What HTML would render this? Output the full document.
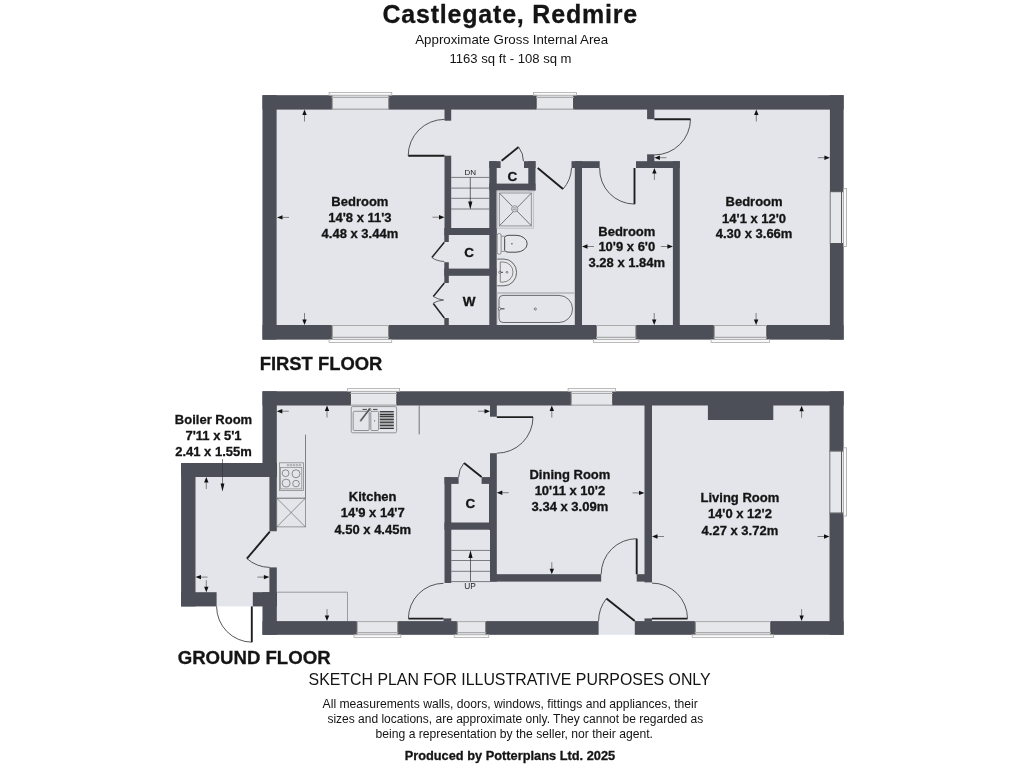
<!DOCTYPE html>
<html><head><meta charset="utf-8"><title>Castlegate, Redmire</title>
<style>html,body{margin:0;padding:0;background:#fff;}svg{display:block;font-family:"Liberation Sans",sans-serif;will-change:transform;}</style>
</head><body>
<svg width="1024" height="768" viewBox="0 0 1024 768">
<rect x="0" y="0" width="1024" height="768" fill="#fff"/>
<rect x="262.5" y="95.2" width="581.1" height="244.4" fill="#e4e5eb" />
<rect x="262.5" y="95.2" width="581.1" height="14.4" fill="#4c4f58" />
<rect x="262.5" y="95.2" width="14.1" height="244.4" fill="#4c4f58" />
<rect x="829.9" y="95.2" width="13.7" height="244.4" fill="#4c4f58" />
<rect x="262.5" y="325" width="581.1" height="14.6" fill="#4c4f58" />
<rect x="444.5" y="108.5" width="6.7" height="12.2" fill="#4c4f58" />
<rect x="444.5" y="155.7" width="6.7" height="79.3" fill="#4c4f58" />
<rect x="444.3" y="228" width="52.2" height="7" fill="#4c4f58" />
<rect x="444.3" y="234" width="4.5" height="8" fill="#4c4f58" />
<rect x="444.3" y="262.2" width="4.5" height="20.8" fill="#4c4f58" />
<rect x="444.3" y="268.6" width="52.2" height="7.2" fill="#4c4f58" />
<rect x="444.3" y="318" width="4.5" height="8" fill="#4c4f58" />
<rect x="489.3" y="161.2" width="7.4" height="164.8" fill="#4c4f58" />
<rect x="489.3" y="161.2" width="11.3" height="6.8" fill="#4c4f58" />
<rect x="524" y="161.2" width="11.5" height="6.8" fill="#4c4f58" />
<rect x="528.3" y="161.2" width="7.2" height="29.3" fill="#4c4f58" />
<rect x="489.3" y="183.6" width="46.2" height="6.9" fill="#4c4f58" />
<rect x="574.8" y="161.2" width="7.2" height="164.8" fill="#4c4f58" />
<rect x="571.5" y="161.2" width="28.2" height="6.8" fill="#4c4f58" />
<rect x="636" y="161.2" width="43.8" height="6.8" fill="#4c4f58" />
<rect x="672.9" y="161.2" width="6.9" height="164.8" fill="#4c4f58" />
<rect x="647.1" y="108.5" width="7.3" height="10.7" fill="#4c4f58" />
<rect x="647.1" y="154.3" width="7.3" height="7.7" fill="#4c4f58" />
<rect x="331.7" y="95.2" width="57.5" height="14.3" fill="#e6e7eb" />
<line x1="332.0" y1="95.2" x2="332.0" y2="109.5" stroke="#333" stroke-width="0.8"/>
<line x1="388.9" y1="95.2" x2="388.9" y2="109.5" stroke="#333" stroke-width="0.8"/>
<rect x="329.09999999999997" y="92.4" width="62.7" height="2.8" fill="#fafafa" stroke="#aaa" stroke-width="0.8"/>
<line x1="331.7" y1="97.4" x2="389.2" y2="97.4" stroke="#aaa" stroke-width="1.2"/>
<line x1="331.7" y1="109.0" x2="389.2" y2="109.0" stroke="#aaa" stroke-width="1"/>
<rect x="536" y="95.2" width="37.8" height="14.3" fill="#e6e7eb" />
<line x1="536.3" y1="95.2" x2="536.3" y2="109.5" stroke="#333" stroke-width="0.8"/>
<line x1="573.5" y1="95.2" x2="573.5" y2="109.5" stroke="#333" stroke-width="0.8"/>
<rect x="533.4" y="92.4" width="43.0" height="2.8" fill="#fafafa" stroke="#aaa" stroke-width="0.8"/>
<line x1="536" y1="97.4" x2="573.8" y2="97.4" stroke="#aaa" stroke-width="1.2"/>
<line x1="536" y1="109.0" x2="573.8" y2="109.0" stroke="#aaa" stroke-width="1"/>
<rect x="829.9" y="191.4" width="13.7" height="52.4" fill="#e6e7eb" />
<line x1="829.9" y1="191.70000000000002" x2="843.6" y2="191.70000000000002" stroke="#333" stroke-width="0.8"/>
<line x1="829.9" y1="243.5" x2="843.6" y2="243.5" stroke="#333" stroke-width="0.8"/>
<rect x="843.6" y="188.4" width="2.9" height="58.1" fill="#fafafa" stroke="#a5a5a8" stroke-width="0.8"/>
<line x1="841.5" y1="191.4" x2="841.5" y2="243.8" stroke="#5a5a5e" stroke-width="1.0"/>
<line x1="830.3" y1="191.4" x2="830.3" y2="243.8" stroke="#77777b" stroke-width="0.9"/>
<rect x="331.7" y="325" width="57.4" height="14.6" fill="#e6e7eb" />
<line x1="332.0" y1="325" x2="332.0" y2="339.6" stroke="#333" stroke-width="0.8"/>
<line x1="388.8" y1="325" x2="388.8" y2="339.6" stroke="#333" stroke-width="0.8"/>
<rect x="329.09999999999997" y="339.6" width="62.6" height="2.8" fill="#fafafa" stroke="#aaa" stroke-width="0.8"/>
<line x1="331.7" y1="337.40000000000003" x2="389.1" y2="337.40000000000003" stroke="#aaa" stroke-width="1.2"/>
<line x1="331.7" y1="325.5" x2="389.1" y2="325.5" stroke="#aaa" stroke-width="1"/>
<rect x="596" y="325" width="40.3" height="14.6" fill="#e6e7eb" />
<line x1="596.3" y1="325" x2="596.3" y2="339.6" stroke="#333" stroke-width="0.8"/>
<line x1="636.0" y1="325" x2="636.0" y2="339.6" stroke="#333" stroke-width="0.8"/>
<rect x="593.4" y="339.6" width="45.5" height="2.8" fill="#fafafa" stroke="#aaa" stroke-width="0.8"/>
<line x1="596" y1="337.40000000000003" x2="636.3" y2="337.40000000000003" stroke="#aaa" stroke-width="1.2"/>
<line x1="596" y1="325.5" x2="636.3" y2="325.5" stroke="#aaa" stroke-width="1"/>
<rect x="713.7" y="325" width="53.3" height="14.6" fill="#e6e7eb" />
<line x1="714.0" y1="325" x2="714.0" y2="339.6" stroke="#333" stroke-width="0.8"/>
<line x1="766.7" y1="325" x2="766.7" y2="339.6" stroke="#333" stroke-width="0.8"/>
<rect x="711.1" y="339.6" width="58.5" height="2.8" fill="#fafafa" stroke="#aaa" stroke-width="0.8"/>
<line x1="713.7" y1="337.40000000000003" x2="767" y2="337.40000000000003" stroke="#aaa" stroke-width="1.2"/>
<line x1="713.7" y1="325.5" x2="767" y2="325.5" stroke="#aaa" stroke-width="1"/>
<line x1="408.2" y1="155.7" x2="444.5" y2="155.7" stroke="#1e1e1e" stroke-width="1.9"/>
<path d="M408.2 155.7 A36.3 36.3 0 0 1 444.5 119.4" stroke="#444" stroke-width="0.9" fill="none"/>
<line x1="501.6" y1="160.8" x2="518.6" y2="147.1" stroke="#1e1e1e" stroke-width="1.9"/>
<path d="M518.6 147.1 A22 22 0 0 1 523.4 161.2" stroke="#444" stroke-width="0.9" fill="none"/>
<line x1="537.7" y1="168" x2="563" y2="189.1" stroke="#1e1e1e" stroke-width="1.9"/>
<path d="M563 189.1 A33.9 33.9 0 0 0 571.5 168" stroke="#444" stroke-width="0.9" fill="none"/>
<line x1="654.4" y1="119.2" x2="690.5" y2="119.2" stroke="#1e1e1e" stroke-width="1.9"/>
<path d="M690.5 119.2 A36 36 0 0 1 654.4 154.9" stroke="#444" stroke-width="0.9" fill="none"/>
<line x1="634.5" y1="168" x2="634.5" y2="204.1" stroke="#1e1e1e" stroke-width="1.9"/>
<path d="M599.7 168 A35 35 0 0 0 634.5 204.1" stroke="#444" stroke-width="0.9" fill="none"/>
<path d="M444.3 242.2 L431.9 257.5" stroke="#222" stroke-width="1.5" fill="none"/>
<path d="M431.9 257.5 Q436 261 444.3 261.5" stroke="#444" stroke-width="0.8" fill="none"/>
<path d="M444.3 283 L433.3 296.5" stroke="#222" stroke-width="1.5" fill="none"/>
<path d="M433.3 296.5 Q438 299.5 443.6 300" stroke="#444" stroke-width="0.8" fill="none"/>
<path d="M443.6 300 Q438 300.5 433.3 303" stroke="#444" stroke-width="0.8" fill="none"/>
<path d="M433.3 303.5 L444.3 318" stroke="#222" stroke-width="1.5" fill="none"/>
<line x1="451.2" y1="177.4" x2="489.3" y2="177.4" stroke="#58585c" stroke-width="0.75"/>
<line x1="451.2" y1="188.1" x2="489.3" y2="188.1" stroke="#58585c" stroke-width="0.75"/>
<line x1="451.2" y1="198.3" x2="489.3" y2="198.3" stroke="#58585c" stroke-width="0.75"/>
<line x1="451.2" y1="209" x2="489.3" y2="209" stroke="#58585c" stroke-width="0.75"/>
<line x1="470.3" y1="177.4" x2="470.3" y2="203" stroke="#333" stroke-width="0.7"/>
<path d="M470.3 209.5 L468.2 201.5 L472.4 201.5 Z" stroke="none" stroke-width="0" fill="#111"/>
<text x="470.3" y="175.1" font-size="8" font-weight="normal" text-anchor="middle" fill="#222" >DN</text>
<text x="512.3" y="180.7" font-size="13.5" font-weight="bold" text-anchor="middle" fill="#141414"  stroke="#141414" stroke-width="0.3">C</text>
<text x="469" y="256.6" font-size="13.5" font-weight="bold" text-anchor="middle" fill="#141414"  stroke="#141414" stroke-width="0.3">C</text>
<text x="469" y="305.5" font-size="13.5" font-weight="bold" text-anchor="middle" fill="#141414"  stroke="#141414" stroke-width="0.3">W</text>
<rect x="497.3" y="191.2" width="36.2" height="37.0" fill="none" stroke="#c4c5c9" stroke-width="1.2"/>
<rect x="499.4" y="193" width="32.0" height="32.9" fill="none" stroke="#9c9da1" stroke-width="1.1"/>
<line x1="499.5" y1="193.2" x2="531.3" y2="225.7" stroke="#444" stroke-width="0.7"/>
<line x1="531.3" y1="193.2" x2="499.5" y2="225.7" stroke="#444" stroke-width="0.7"/>
<circle cx="514.7" cy="208.8" r="3.2" fill="#d8d9dd" stroke="#8a8a8e" stroke-width="0.8"/>
<line x1="512.6" y1="207.9" x2="516.8" y2="207.9" stroke="#777" stroke-width="0.6"/>
<line x1="512.6" y1="209.7" x2="516.8" y2="209.7" stroke="#777" stroke-width="0.6"/>
<rect x="497.2" y="233.5" width="3.9" height="20.8" fill="#e9e9ec" stroke="#6a6a6e" stroke-width="0.7" rx="1.8"/>
<line x1="501.1" y1="236.2" x2="505.5" y2="236.2" stroke="#777" stroke-width="0.7"/>
<line x1="501.1" y1="251.4" x2="505.5" y2="251.4" stroke="#777" stroke-width="0.7"/>
<path d="M504.5 238.5 Q504.5 235.3 509 235.3 L516 235.3 A11.2 8.45 0 0 1 516 252.2 L509 252.2 Q504.5 252.2 504.5 249 Z" stroke="#3a3a3e" stroke-width="0.9" fill="#e6e7ea"/>
<line x1="505" y1="239" x2="505" y2="248.5" stroke="#888" stroke-width="0.6"/>
<circle cx="511.9" cy="243.8" r="0.8" fill="#555"/>
<path d="M497.2 259.1 L504 259.1 A12.6 13.35 0 0 1 504 285.8 L497.2 285.8" stroke="#555" stroke-width="0.9" fill="#e8e8eb"/>
<path d="M500.3 262 L503 262 A10 10.05 0 0 1 503 282.1 L500.3 282.1 Z" stroke="#6a6a6e" stroke-width="0.8" fill="none"/>
<circle cx="507" cy="272.3" r="0.9" fill="none" stroke="#555" stroke-width="0.7"/>
<circle cx="499.8" cy="272.3" r="1.1" fill="#f4f4f6" stroke="#333" stroke-width="0.6"/>
<line x1="500.9" y1="272.3" x2="503" y2="272.3" stroke="#444" stroke-width="1"/>
<line x1="497.3" y1="293" x2="574.8" y2="293" stroke="#b4b5b9" stroke-width="1.5"/>
<line x1="497.5" y1="293" x2="497.5" y2="325" stroke="#c4c5c9" stroke-width="0.7"/>
<path d="M503 295.4 L559 295.4 A13.55 13.55 0 0 1 559 322.5 L503 322.5 Q499 322.5 499 318.5 L499 299.4 Q499 295.4 503 295.4 Z" stroke="#4a4a4e" stroke-width="0.8" fill="none"/>
<circle cx="535.3" cy="309" r="1.1" fill="none" stroke="#555" stroke-width="0.7"/>
<circle cx="499.5" cy="308.8" r="1.3" fill="#f4f4f6" stroke="#333" stroke-width="0.6"/>
<line x1="500.7" y1="308.8" x2="504.5" y2="308.8" stroke="#444" stroke-width="1.1"/>
<line x1="304.5" y1="114.5" x2="304.5" y2="121.5" stroke="#555" stroke-width="0.7"/>
<path d="M304.5 109.5 L302.3 115.0 L306.7 115.0 Z" stroke="none" stroke-width="0" fill="#111"/>
<line x1="304.5" y1="313" x2="304.5" y2="320.0" stroke="#555" stroke-width="0.7"/>
<path d="M304.5 325 L302.3 319.5 L306.7 319.5 Z" stroke="none" stroke-width="0" fill="#111"/>
<line x1="282.0" y1="217.4" x2="289" y2="217.4" stroke="#555" stroke-width="0.7"/>
<path d="M277 217.4 L282.5 215.20000000000002 L282.5 219.6 Z" stroke="none" stroke-width="0" fill="#111"/>
<line x1="432.5" y1="217.2" x2="439.5" y2="217.2" stroke="#555" stroke-width="0.7"/>
<path d="M444.5 217.2 L439.0 215.0 L439.0 219.39999999999998 Z" stroke="none" stroke-width="0" fill="#111"/>
<line x1="587.0" y1="246.5" x2="594" y2="246.5" stroke="#555" stroke-width="0.7"/>
<path d="M582 246.5 L587.5 244.3 L587.5 248.7 Z" stroke="none" stroke-width="0" fill="#111"/>
<line x1="660.9" y1="246.5" x2="667.9" y2="246.5" stroke="#555" stroke-width="0.7"/>
<path d="M672.9 246.5 L667.4 244.3 L667.4 248.7 Z" stroke="none" stroke-width="0" fill="#111"/>
<line x1="654.4" y1="173.0" x2="654.4" y2="180" stroke="#555" stroke-width="0.7"/>
<path d="M654.4 168 L652.1999999999999 173.5 L656.6 173.5 Z" stroke="none" stroke-width="0" fill="#111"/>
<line x1="654.2" y1="313" x2="654.2" y2="320.0" stroke="#555" stroke-width="0.7"/>
<path d="M654.2 325 L652.0 319.5 L656.4000000000001 319.5 Z" stroke="none" stroke-width="0" fill="#111"/>
<line x1="756.3" y1="114.5" x2="756.3" y2="121.5" stroke="#555" stroke-width="0.7"/>
<path d="M756.3 109.5 L754.0999999999999 115.0 L758.5 115.0 Z" stroke="none" stroke-width="0" fill="#111"/>
<line x1="756.1" y1="313" x2="756.1" y2="320.0" stroke="#555" stroke-width="0.7"/>
<path d="M756.1 325 L753.9 319.5 L758.3000000000001 319.5 Z" stroke="none" stroke-width="0" fill="#111"/>
<line x1="817.9" y1="157.7" x2="824.9" y2="157.7" stroke="#555" stroke-width="0.7"/>
<path d="M829.9 157.7 L824.4 155.5 L824.4 159.89999999999998 Z" stroke="none" stroke-width="0" fill="#111"/>
<line x1="659.4" y1="157.7" x2="666.4" y2="157.7" stroke="#555" stroke-width="0.7"/>
<path d="M654.4 157.7 L659.9 155.5 L659.9 159.89999999999998 Z" stroke="none" stroke-width="0" fill="#111"/>
<text x="359.9" y="206" font-size="13" font-weight="bold" text-anchor="middle" fill="#141414"  stroke="#141414" stroke-width="0.3">Bedroom</text>
<text x="359.9" y="222.1" font-size="13" font-weight="bold" text-anchor="middle" fill="#141414"  stroke="#141414" stroke-width="0.3">14'8 x 11'3</text>
<text x="359.9" y="238.2" font-size="13" font-weight="bold" text-anchor="middle" fill="#141414"  stroke="#141414" stroke-width="0.3">4.48 x 3.44m</text>
<text x="626.8" y="235.8" font-size="13" font-weight="bold" text-anchor="middle" fill="#141414"  stroke="#141414" stroke-width="0.3">Bedroom</text>
<text x="626.8" y="251.3" font-size="13" font-weight="bold" text-anchor="middle" fill="#141414"  stroke="#141414" stroke-width="0.3">10'9 x 6'0</text>
<text x="626.8" y="267" font-size="13" font-weight="bold" text-anchor="middle" fill="#141414"  stroke="#141414" stroke-width="0.3">3.28 x 1.84m</text>
<text x="754.1" y="206.1" font-size="13" font-weight="bold" text-anchor="middle" fill="#141414"  stroke="#141414" stroke-width="0.3">Bedroom</text>
<text x="754.1" y="222.5" font-size="13" font-weight="bold" text-anchor="middle" fill="#141414"  stroke="#141414" stroke-width="0.3">14'1 x 12'0</text>
<text x="754.1" y="238" font-size="13" font-weight="bold" text-anchor="middle" fill="#141414"  stroke="#141414" stroke-width="0.3">4.30 x 3.66m</text>
<rect x="262.5" y="391.3" width="581.1" height="243.5" fill="#e4e5eb" />
<rect x="181.1" y="463" width="95.9" height="143.4" fill="#e4e5eb" />
<rect x="262.5" y="391.3" width="581.1" height="14.2" fill="#4c4f58" />
<rect x="262.5" y="391.3" width="14.3" height="85.7" fill="#4c4f58" />
<rect x="181.1" y="463" width="95.7" height="14" fill="#4c4f58" />
<rect x="181.1" y="463" width="14.4" height="143.4" fill="#4c4f58" />
<rect x="181.1" y="592.2" width="35.5" height="14.2" fill="#4c4f58" />
<rect x="269.4" y="463" width="7.4" height="68.25" fill="#4c4f58" />
<rect x="269.4" y="567.4" width="7.4" height="39.0" fill="#4c4f58" />
<rect x="252.8" y="592.2" width="24.0" height="14.2" fill="#4c4f58" />
<rect x="262.5" y="592.2" width="14.3" height="42.6" fill="#4c4f58" />
<rect x="262.5" y="621.1" width="336.1" height="13.7" fill="#4c4f58" />
<rect x="634.8" y="621.1" width="208.8" height="13.7" fill="#4c4f58" />
<rect x="829.5" y="391.3" width="14.1" height="243.5" fill="#4c4f58" />
<rect x="490" y="404.5" width="6.8" height="12.2" fill="#4c4f58" />
<rect x="490" y="453.2" width="6.8" height="128.4" fill="#4c4f58" />
<rect x="444.5" y="477.1" width="14.1" height="6.8" fill="#4c4f58" />
<rect x="481.6" y="477.1" width="9.4" height="6.8" fill="#4c4f58" />
<rect x="444.5" y="477.1" width="6.8" height="105.9" fill="#4c4f58" />
<rect x="444.5" y="522.5" width="46.5" height="7.2" fill="#4c4f58" />
<rect x="489" y="477.1" width="2" height="52.9" fill="#4c4f58" />
<rect x="490" y="574.2" width="111.2" height="7.4" fill="#4c4f58" />
<rect x="636.7" y="574.2" width="8.8" height="7.4" fill="#4c4f58" />
<rect x="644.5" y="404.5" width="7.5" height="177.9" fill="#4c4f58" />
<rect x="707.9" y="404.5" width="65.4" height="15.5" fill="#4c4f58" />
<rect x="350.2" y="391.3" width="46.8" height="14.2" fill="#e6e7eb" />
<line x1="350.5" y1="391.3" x2="350.5" y2="405.5" stroke="#333" stroke-width="0.8"/>
<line x1="396.7" y1="391.3" x2="396.7" y2="405.5" stroke="#333" stroke-width="0.8"/>
<rect x="347.59999999999997" y="388.5" width="52.0" height="2.8" fill="#fafafa" stroke="#aaa" stroke-width="0.8"/>
<line x1="350.2" y1="393.5" x2="397" y2="393.5" stroke="#aaa" stroke-width="1.2"/>
<line x1="350.2" y1="405.0" x2="397" y2="405.0" stroke="#aaa" stroke-width="1"/>
<rect x="570.7" y="391.3" width="42.2" height="14.2" fill="#e6e7eb" />
<line x1="571.0" y1="391.3" x2="571.0" y2="405.5" stroke="#333" stroke-width="0.8"/>
<line x1="612.6" y1="391.3" x2="612.6" y2="405.5" stroke="#333" stroke-width="0.8"/>
<rect x="568.1" y="388.5" width="47.4" height="2.8" fill="#fafafa" stroke="#aaa" stroke-width="0.8"/>
<line x1="570.7" y1="393.5" x2="612.9" y2="393.5" stroke="#aaa" stroke-width="1.2"/>
<line x1="570.7" y1="405.0" x2="612.9" y2="405.0" stroke="#aaa" stroke-width="1"/>
<rect x="829.5" y="450.8" width="14.1" height="62.5" fill="#e6e7eb" />
<line x1="829.5" y1="451.1" x2="843.6" y2="451.1" stroke="#333" stroke-width="0.8"/>
<line x1="829.5" y1="513.0" x2="843.6" y2="513.0" stroke="#333" stroke-width="0.8"/>
<rect x="843.6" y="447.8" width="2.9" height="68.2" fill="#fafafa" stroke="#a5a5a8" stroke-width="0.8"/>
<line x1="841.5" y1="450.8" x2="841.5" y2="513.3" stroke="#5a5a5e" stroke-width="1.0"/>
<line x1="829.9" y1="450.8" x2="829.9" y2="513.3" stroke="#77777b" stroke-width="0.9"/>
<rect x="356.6" y="621.1" width="41.6" height="13.7" fill="#e6e7eb" />
<line x1="356.90000000000003" y1="621.1" x2="356.90000000000003" y2="634.8" stroke="#333" stroke-width="0.8"/>
<line x1="397.9" y1="621.1" x2="397.9" y2="634.8" stroke="#333" stroke-width="0.8"/>
<rect x="354.0" y="634.8" width="46.8" height="2.8" fill="#fafafa" stroke="#aaa" stroke-width="0.8"/>
<line x1="356.6" y1="632.5999999999999" x2="398.2" y2="632.5999999999999" stroke="#aaa" stroke-width="1.2"/>
<line x1="356.6" y1="621.6" x2="398.2" y2="621.6" stroke="#aaa" stroke-width="1"/>
<rect x="456.8" y="621.1" width="29.3" height="13.7" fill="#e6e7eb" />
<line x1="457.1" y1="621.1" x2="457.1" y2="634.8" stroke="#333" stroke-width="0.8"/>
<line x1="485.8" y1="621.1" x2="485.8" y2="634.8" stroke="#333" stroke-width="0.8"/>
<rect x="454.2" y="634.8" width="34.5" height="2.8" fill="#fafafa" stroke="#aaa" stroke-width="0.8"/>
<line x1="456.8" y1="632.5999999999999" x2="486.1" y2="632.5999999999999" stroke="#aaa" stroke-width="1.2"/>
<line x1="456.8" y1="621.6" x2="486.1" y2="621.6" stroke="#aaa" stroke-width="1"/>
<rect x="694.8" y="621.1" width="76.2" height="13.7" fill="#e6e7eb" />
<line x1="695.0999999999999" y1="621.1" x2="695.0999999999999" y2="634.8" stroke="#333" stroke-width="0.8"/>
<line x1="770.7" y1="621.1" x2="770.7" y2="634.8" stroke="#333" stroke-width="0.8"/>
<rect x="692.1999999999999" y="634.8" width="81.4" height="2.8" fill="#fafafa" stroke="#aaa" stroke-width="0.8"/>
<line x1="694.8" y1="632.5999999999999" x2="771" y2="632.5999999999999" stroke="#aaa" stroke-width="1.2"/>
<line x1="694.8" y1="621.6" x2="771" y2="621.6" stroke="#aaa" stroke-width="1"/>
<line x1="496.8" y1="417.1" x2="533" y2="417.1" stroke="#1e1e1e" stroke-width="1.9"/>
<path d="M533 417.1 A36.2 36.2 0 0 1 496.8 453.2" stroke="#444" stroke-width="0.9" fill="none"/>
<line x1="481.6" y1="477.1" x2="464" y2="463" stroke="#1e1e1e" stroke-width="1.9"/>
<path d="M464 463 A22.5 22.5 0 0 0 458.6 477.1" stroke="#444" stroke-width="0.9" fill="none"/>
<line x1="408.4" y1="618.6" x2="443.5" y2="618.6" stroke="#1e1e1e" stroke-width="1.9"/>
<path d="M408.4 618.6 A35.3 35.3 0 0 1 443.5 583.3" stroke="#444" stroke-width="0.9" fill="none"/>
<line x1="636.7" y1="538.7" x2="636.7" y2="574.2" stroke="#1e1e1e" stroke-width="1.9"/>
<path d="M601.2 574.2 A35.5 35.5 0 0 1 636.7 538.7" stroke="#444" stroke-width="0.9" fill="none"/>
<line x1="652" y1="618.6" x2="687.5" y2="618.6" stroke="#1e1e1e" stroke-width="1.9"/>
<path d="M687.5 618.6 A35.5 35.5 0 0 0 652 583.1" stroke="#444" stroke-width="0.9" fill="none"/>
<rect x="644.5" y="618.4" width="7.5" height="3.1" fill="#4c4f58" />
<rect x="443.5" y="618.4" width="7.8" height="3.1" fill="#4c4f58" />
<line x1="634.8" y1="621.1" x2="606.4" y2="598.6" stroke="#1e1e1e" stroke-width="1.9"/>
<path d="M606.4 598.6 A36.2 36.2 0 0 0 598.6 621.1" stroke="#444" stroke-width="0.9" fill="none"/>
<line x1="269.8" y1="531.6" x2="246.9" y2="558.6" stroke="#1e1e1e" stroke-width="1.9"/>
<path d="M246.9 558.6 A35.8 35.8 0 0 0 269.8 567.4" stroke="#444" stroke-width="0.9" fill="none"/>
<line x1="251.8" y1="606.4" x2="251.8" y2="642.2" stroke="#1e1e1e" stroke-width="1.9"/>
<path d="M251.8 642.2 A35.8 35.8 0 0 1 216.6 606.4" stroke="#444" stroke-width="0.9" fill="none"/>
<line x1="451.3" y1="550.4" x2="490" y2="550.4" stroke="#58585c" stroke-width="0.75"/>
<line x1="451.3" y1="560.5" x2="490" y2="560.5" stroke="#58585c" stroke-width="0.75"/>
<line x1="451.3" y1="571.3" x2="490" y2="571.3" stroke="#58585c" stroke-width="0.75"/>
<line x1="451.3" y1="581.6" x2="490" y2="581.6" stroke="#58585c" stroke-width="0.75"/>
<line x1="470.5" y1="557" x2="470.5" y2="581.6" stroke="#333" stroke-width="0.7"/>
<path d="M470.5 550.2 L468.4 558 L472.6 558 Z" stroke="none" stroke-width="0" fill="#111"/>
<text x="470" y="588.9" font-size="8.3" font-weight="normal" text-anchor="middle" fill="#222" >UP</text>
<text x="470.4" y="507.9" font-size="13.5" font-weight="bold" text-anchor="middle" fill="#141414"  stroke="#141414" stroke-width="0.3">C</text>
<line x1="305.5" y1="434.7" x2="305.5" y2="498.2" stroke="#666" stroke-width="0.8"/>
<line x1="276.8" y1="498.2" x2="305.5" y2="498.2" stroke="#888" stroke-width="0.8"/>
<rect x="276.8" y="498.2" width="28.6" height="28.7" fill="none" stroke="#777" stroke-width="0.7"/>
<line x1="276.8" y1="498.2" x2="305.4" y2="526.9" stroke="#555" stroke-width="0.6"/>
<line x1="305.4" y1="498.2" x2="276.8" y2="526.9" stroke="#555" stroke-width="0.6"/>
<rect x="279.4" y="462.8" width="24.1" height="27.6" fill="none" stroke="#888" stroke-width="0.8"/>
<rect x="280.4" y="467.5" width="21.4" height="21.4" fill="none" stroke="#888" stroke-width="0.7"/>
<circle cx="285.6" cy="473.2" r="3.4" fill="none" stroke="#666" stroke-width="0.7"/>
<circle cx="296" cy="473.75" r="4" fill="none" stroke="#666" stroke-width="0.7"/>
<circle cx="286.1" cy="483.1" r="4" fill="none" stroke="#666" stroke-width="0.7"/>
<circle cx="296" cy="483.6" r="3.3" fill="none" stroke="#666" stroke-width="0.7"/>
<circle cx="288" cy="465.2" r="0.9" fill="none" stroke="#777" stroke-width="0.5"/>
<circle cx="291" cy="465.2" r="0.9" fill="none" stroke="#777" stroke-width="0.5"/>
<circle cx="294" cy="465.2" r="0.9" fill="none" stroke="#777" stroke-width="0.5"/>
<circle cx="297" cy="465.2" r="0.9" fill="none" stroke="#777" stroke-width="0.5"/>
<circle cx="300" cy="465.2" r="0.9" fill="none" stroke="#777" stroke-width="0.5"/>
<rect x="351.25" y="406.6" width="45.35" height="26.2" fill="none" stroke="#8a8a8e" stroke-width="0.9" rx="1.5"/>
<rect x="353.2" y="411.3" width="16.0" height="19.2" fill="none" stroke="#7a7a7e" stroke-width="0.8" rx="1.2"/>
<rect x="370.8" y="411.3" width="7.8" height="19.2" fill="none" stroke="#7a7a7e" stroke-width="0.8" rx="1.2"/>
<rect x="379.8" y="411.6" width="14.0" height="17.4" fill="#a8a9ad" />
<line x1="379.8" y1="411.6" x2="393.8" y2="411.6" stroke="#333" stroke-width="1.0"/>
<line x1="379.8" y1="414.5" x2="393.8" y2="414.5" stroke="#333" stroke-width="1.0"/>
<line x1="379.8" y1="416.4" x2="393.8" y2="416.4" stroke="#333" stroke-width="1.0"/>
<line x1="379.8" y1="419.4" x2="393.8" y2="419.4" stroke="#333" stroke-width="1.0"/>
<line x1="379.8" y1="422.3" x2="393.8" y2="422.3" stroke="#333" stroke-width="1.0"/>
<line x1="379.8" y1="425.4" x2="393.8" y2="425.4" stroke="#333" stroke-width="1.0"/>
<line x1="379.8" y1="428.5" x2="393.8" y2="428.5" stroke="#333" stroke-width="1.0"/>
<path d="M360.6 420.7 L369.8 408.8" stroke="#555" stroke-width="1.6" fill="none"/>
<circle cx="360.6" cy="420.7" r="0.9" fill="#777"/>
<line x1="362.5" y1="409.4" x2="367" y2="409.4" stroke="#333" stroke-width="0.9"/>
<line x1="373" y1="409.4" x2="377.5" y2="409.4" stroke="#333" stroke-width="0.9"/>
<circle cx="369.8" cy="409.5" r="1.2" fill="none" stroke="#555" stroke-width="0.6"/>
<circle cx="374.6" cy="420.8" r="0.6" fill="#555"/>
<line x1="419.2" y1="405.5" x2="419.2" y2="434.4" stroke="#555" stroke-width="0.8"/>
<path d="M276.8 592.2 L347.5 592.2 L347.5 621.1" stroke="#888" stroke-width="0.8" fill="none"/>
<line x1="206.3" y1="482.0" x2="206.3" y2="489" stroke="#555" stroke-width="0.7"/>
<path d="M206.3 477 L204.10000000000002 482.5 L208.5 482.5 Z" stroke="none" stroke-width="0" fill="#111"/>
<line x1="206.3" y1="580.2" x2="206.3" y2="587.2" stroke="#555" stroke-width="0.7"/>
<path d="M206.3 592.2 L204.10000000000002 586.7 L208.5 586.7 Z" stroke="none" stroke-width="0" fill="#111"/>
<line x1="200.5" y1="577.1" x2="207.5" y2="577.1" stroke="#555" stroke-width="0.7"/>
<path d="M195.5 577.1 L201.0 574.9 L201.0 579.3000000000001 Z" stroke="none" stroke-width="0" fill="#111"/>
<line x1="257.4" y1="577.1" x2="264.4" y2="577.1" stroke="#555" stroke-width="0.7"/>
<path d="M269.4 577.1 L263.9 574.9 L263.9 579.3000000000001 Z" stroke="none" stroke-width="0" fill="#111"/>
<line x1="222.5" y1="459" x2="222.5" y2="484" stroke="#333" stroke-width="0.6"/>
<path d="M222.5 491.6 L220.6 483.6 L224.4 483.6 Z" stroke="none" stroke-width="0" fill="#111"/>
<line x1="281.8" y1="411.2" x2="288.8" y2="411.2" stroke="#555" stroke-width="0.7"/>
<path d="M276.8 411.2 L282.3 409.0 L282.3 413.4 Z" stroke="none" stroke-width="0" fill="#111"/>
<line x1="327" y1="410.5" x2="327" y2="417.5" stroke="#555" stroke-width="0.7"/>
<path d="M327 405.5 L324.8 411.0 L329.2 411.0 Z" stroke="none" stroke-width="0" fill="#111"/>
<line x1="478" y1="411.2" x2="485.0" y2="411.2" stroke="#555" stroke-width="0.7"/>
<path d="M490 411.2 L484.5 409.0 L484.5 413.4 Z" stroke="none" stroke-width="0" fill="#111"/>
<line x1="327" y1="609.1" x2="327" y2="616.1" stroke="#555" stroke-width="0.7"/>
<path d="M327 621.1 L324.8 615.6 L329.2 615.6 Z" stroke="none" stroke-width="0" fill="#111"/>
<line x1="551.8" y1="410.5" x2="551.8" y2="417.5" stroke="#555" stroke-width="0.7"/>
<path d="M551.8 405.5 L549.5999999999999 411.0 L554.0 411.0 Z" stroke="none" stroke-width="0" fill="#111"/>
<line x1="501.8" y1="492.7" x2="508.8" y2="492.7" stroke="#555" stroke-width="0.7"/>
<path d="M496.8 492.7 L502.3 490.5 L502.3 494.9 Z" stroke="none" stroke-width="0" fill="#111"/>
<line x1="632.5" y1="492.9" x2="639.5" y2="492.9" stroke="#555" stroke-width="0.7"/>
<path d="M644.5 492.9 L639.0 490.7 L639.0 495.09999999999997 Z" stroke="none" stroke-width="0" fill="#111"/>
<line x1="551.8" y1="562.2" x2="551.8" y2="569.2" stroke="#555" stroke-width="0.7"/>
<path d="M551.8 574.2 L549.5999999999999 568.7 L554.0 568.7 Z" stroke="none" stroke-width="0" fill="#111"/>
<line x1="801.6" y1="410.8" x2="801.6" y2="417.8" stroke="#555" stroke-width="0.7"/>
<path d="M801.6 405.8 L799.4 411.3 L803.8000000000001 411.3 Z" stroke="none" stroke-width="0" fill="#111"/>
<line x1="801.6" y1="609.1" x2="801.6" y2="616.1" stroke="#555" stroke-width="0.7"/>
<path d="M801.6 621.1 L799.4 615.6 L803.8000000000001 615.6 Z" stroke="none" stroke-width="0" fill="#111"/>
<line x1="657.0" y1="536.5" x2="664" y2="536.5" stroke="#555" stroke-width="0.7"/>
<path d="M652 536.5 L657.5 534.3 L657.5 538.7 Z" stroke="none" stroke-width="0" fill="#111"/>
<line x1="817.5" y1="536.5" x2="824.5" y2="536.5" stroke="#555" stroke-width="0.7"/>
<path d="M829.5 536.5 L824.0 534.3 L824.0 538.7 Z" stroke="none" stroke-width="0" fill="#111"/>
<text x="213.5" y="424" font-size="13" font-weight="bold" text-anchor="middle" fill="#141414"  stroke="#141414" stroke-width="0.3">Boiler Room</text>
<text x="213.5" y="439.6" font-size="13" font-weight="bold" text-anchor="middle" fill="#141414"  stroke="#141414" stroke-width="0.3">7'11 x 5'1</text>
<text x="213.5" y="455.8" font-size="13" font-weight="bold" text-anchor="middle" fill="#141414"  stroke="#141414" stroke-width="0.3">2.41 x 1.55m</text>
<text x="372.7" y="501.1" font-size="13" font-weight="bold" text-anchor="middle" fill="#141414"  stroke="#141414" stroke-width="0.3">Kitchen</text>
<text x="372.7" y="516.7" font-size="13" font-weight="bold" text-anchor="middle" fill="#141414"  stroke="#141414" stroke-width="0.3">14'9 x 14'7</text>
<text x="372.7" y="533.6" font-size="13" font-weight="bold" text-anchor="middle" fill="#141414"  stroke="#141414" stroke-width="0.3">4.50 x 4.45m</text>
<text x="569.9" y="478.6" font-size="13" font-weight="bold" text-anchor="middle" fill="#141414"  stroke="#141414" stroke-width="0.3">Dining Room</text>
<text x="569.9" y="494.8" font-size="13" font-weight="bold" text-anchor="middle" fill="#141414"  stroke="#141414" stroke-width="0.3">10'11 x 10'2</text>
<text x="569.9" y="510.5" font-size="13" font-weight="bold" text-anchor="middle" fill="#141414"  stroke="#141414" stroke-width="0.3">3.34 x 3.09m</text>
<text x="739.9" y="502.1" font-size="13" font-weight="bold" text-anchor="middle" fill="#141414"  stroke="#141414" stroke-width="0.3">Living Room</text>
<text x="739.9" y="517.7" font-size="13" font-weight="bold" text-anchor="middle" fill="#141414"  stroke="#141414" stroke-width="0.3">14'0 x 12'2</text>
<text x="739.9" y="534.6" font-size="13" font-weight="bold" text-anchor="middle" fill="#141414"  stroke="#141414" stroke-width="0.3">4.27 x 3.72m</text>
<text x="510.2" y="22.5" font-size="25" font-weight="bold" text-anchor="middle" fill="#141414" letter-spacing="0.8" stroke="#141414" stroke-width="0.3">Castlegate, Redmire</text>
<text x="511.7" y="44.3" font-size="13.3" font-weight="normal" text-anchor="middle" fill="#141414" >Approximate Gross Internal Area</text>
<text x="510.5" y="62.9" font-size="13.1" font-weight="normal" text-anchor="middle" fill="#141414" >1163 sq ft - 108 sq m</text>
<text x="259.7" y="370.1" font-size="18.4" font-weight="bold" text-anchor="start" fill="#141414"  stroke="#141414" stroke-width="0.3">FIRST FLOOR</text>
<text x="177.7" y="664.1" font-size="18.6" font-weight="bold" text-anchor="start" fill="#141414"  stroke="#141414" stroke-width="0.3">GROUND FLOOR</text>
<text x="509.6" y="684.5" font-size="15.9" font-weight="normal" text-anchor="middle" fill="#141414" >SKETCH PLAN FOR ILLUSTRATIVE PURPOSES ONLY</text>
<text x="510.2" y="708" font-size="12.15" font-weight="normal" text-anchor="middle" fill="#141414" >All measurements walls, doors, windows, fittings and appliances, their</text>
<text x="515.3" y="722.8" font-size="12.0" font-weight="normal" text-anchor="middle" fill="#141414" >sizes and locations, are approximate only. They cannot be regarded as</text>
<text x="514.3" y="737.9" font-size="12.15" font-weight="normal" text-anchor="middle" fill="#141414" >being a representation by the seller, nor their agent.</text>
<text x="509.9" y="760.2" font-size="12.8" font-weight="bold" text-anchor="middle" fill="#141414"  stroke="#141414" stroke-width="0.3">Produced by Potterplans Ltd. 2025</text>
</svg>
</body></html>
